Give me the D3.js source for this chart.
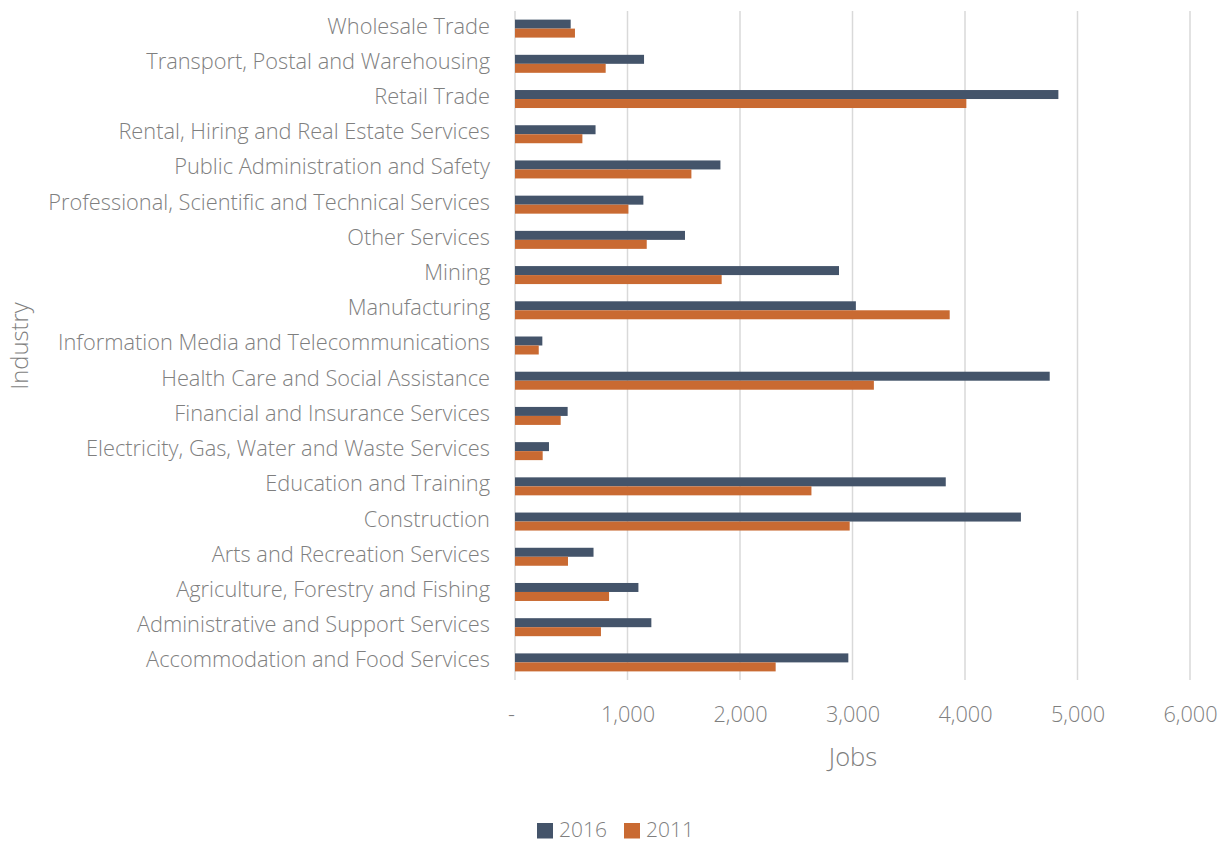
<!DOCTYPE html>
<html>
<head>
<meta charset="utf-8">
<script src="https://cdn.jsdelivr.net/npm/d3@7"></script>
<style>
  html, body { margin: 0; padding: 0; background: #fff; }
  svg { display: block; }
</style>
</head>
<body>
<svg id="chart" width="1229" height="843"></svg>
<script>
// Industries, listed top to bottom
const industries = [
  "Wholesale Trade",
  "Transport, Postal and Warehousing",
  "Retail Trade",
  "Rental, Hiring and Real Estate Services",
  "Public Administration and Safety",
  "Professional, Scientific and Technical Services",
  "Other Services",
  "Mining",
  "Manufacturing",
  "Information Media and Telecommunications",
  "Health Care and Social Assistance",
  "Financial and Insurance Services",
  "Electricity, Gas, Water and Waste Services",
  "Education and Training",
  "Construction",
  "Arts and Recreation Services",
  "Agriculture, Forestry and Fishing",
  "Administrative and Support Services",
  "Accommodation and Food Services"
];

const seriesNames = ["2016", "2011"];

const jobs2016 = [495, 1147, 4830, 716, 1826, 1141, 1511, 2880, 3030, 243, 4753,
                  468, 302, 3829, 4497, 698, 1097, 1212, 2963];
const jobs2011 = [533, 806, 4012, 599, 1568, 1008, 1171, 1837, 3864, 211, 3190,
                  406, 246, 2635, 2975, 471, 836, 764, 2317];

const xTicks = [0, 1000, 2000, 3000, 4000, 5000, 6000];

const colors = { "2016": "#44546A", "2011": "#C96A32" };

const font = "'Open Sans', sans-serif";
const textColor = "#7f7f7f";

const svg = d3.select("#chart");

const x = d3.scaleLinear().domain([0, 6000]).range([515, 1190]);
const y = d3.scaleBand().domain(industries).range([11, 680])
  .paddingInner(0.489).paddingOuter(0.2445);
const ySub = d3.scaleBand().domain(seriesNames).range([0, y.bandwidth()]);

// Vertical gridlines
svg.append("g")
  .selectAll("line")
  .data(xTicks)
  .join("line")
  .attr("x1", d => x(d)).attr("x2", d => x(d))
  .attr("y1", 11).attr("y2", 680)
  .attr("stroke", "#d9d9d9")
  .attr("stroke-width", 1.5);

// X axis tick labels
const xAxis = d3.axisBottom(x)
  .tickValues(xTicks)
  .tickSize(0)
  .tickPadding(0)
  .tickFormat(d => d === 0 ? "-" : d3.format(",")(d));
const gx = svg.append("g").attr("transform", "translate(0,722)").call(xAxis);
gx.select(".domain").remove();
gx.selectAll("text")
  .attr("dy", 0)
  .attr("y", 0)
  .attr("font-family", font)
  .attr("font-weight", 300)
  .attr("font-size", 21.7)
  .attr("fill", textColor)
  .attr("dx", d => d === 0 ? -4 : 0);

// Y axis category labels
const yAxis = d3.axisLeft(y).tickSize(0).tickPadding(0);
const gy = svg.append("g").attr("transform", "translate(490,-2)").call(yAxis);
gy.select(".domain").remove();
gy.selectAll("text")
  .attr("font-family", font)
  .attr("font-weight", 300)
  .attr("font-size", 21.8)
  .attr("fill", textColor);

// Bars
const rows = industries.map((name, i) => ({ name, values: [jobs2016[i], jobs2011[i]] }));
const groups = svg.append("g")
  .selectAll("g")
  .data(rows)
  .join("g")
  .attr("transform", d => `translate(0,${y(d.name)})`);

groups.selectAll("rect")
  .data(d => d.values.map((v, j) => ({ series: seriesNames[j], value: v })))
  .join("rect")
  .attr("x", x(0))
  .attr("y", d => ySub(d.series))
  .attr("width", d => x(d.value) - x(0))
  .attr("height", ySub.bandwidth())
  .attr("fill", d => colors[d.series]);

// Axis titles
svg.append("text")
  .attr("x", 853).attr("y", 766)
  .attr("text-anchor", "middle")
  .attr("font-family", font).attr("font-weight", 300)
  .attr("font-size", 25.5).attr("fill", textColor)
  .text("Jobs");

svg.append("text")
  .attr("transform", "translate(20,346) rotate(-90)")
  .attr("dy", "0.35em")
  .attr("text-anchor", "middle")
  .attr("font-family", font).attr("font-weight", 300)
  .attr("font-size", 23.8).attr("fill", textColor)
  .text("Industry");

// Legend
const legend = svg.append("g").attr("transform", "translate(537,0)");
const legendX = [0, 87];
seriesNames.forEach((s, i) => {
  const g = legend.append("g").attr("transform", `translate(${legendX[i]},0)`);
  g.append("rect").attr("x", 0).attr("y", 823).attr("width", 16).attr("height", 15.5)
    .attr("fill", colors[s]);
  g.append("text").attr("x", 22).attr("y", 837)
    .attr("font-family", font).attr("font-weight", 300)
    .attr("font-size", 21).attr("fill", textColor)
    .text(s);
});
</script>
</body>
</html>
